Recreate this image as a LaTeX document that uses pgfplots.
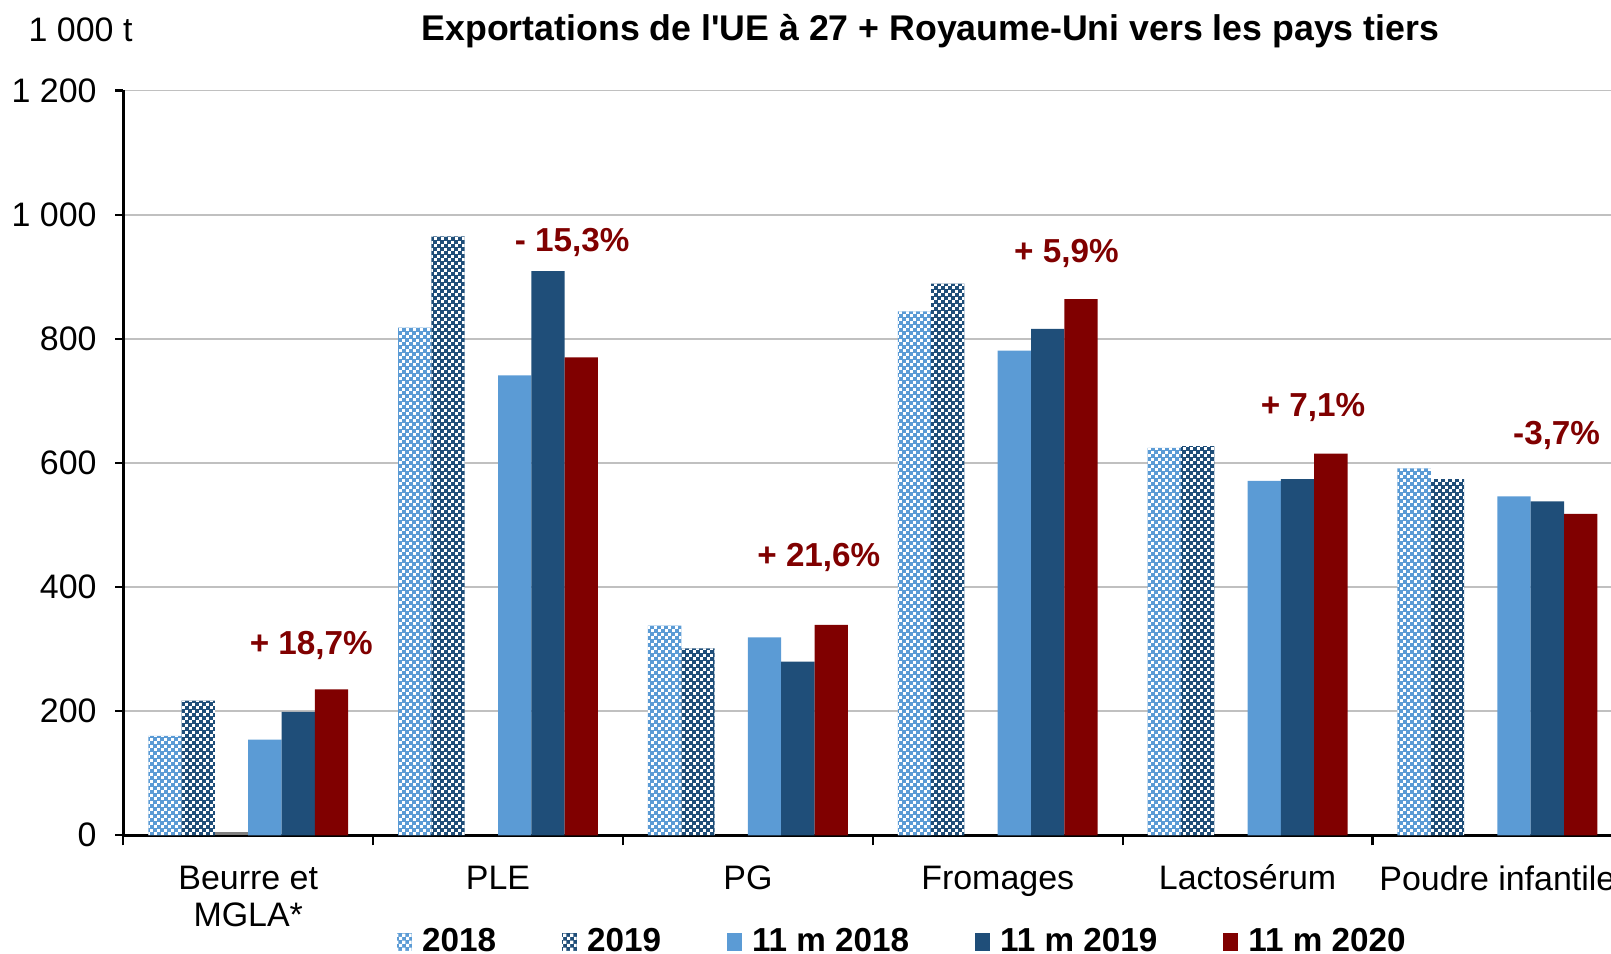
\documentclass[border=0pt]{standalone}
\usepackage{fontspec}
\setmainfont{Liberation Sans}[Ligatures=TeXOff]
\usepackage{pgfplots}
\pgfplotsset{compat=1.18}
\usetikzlibrary{patterns.meta}
\pgfdeclarepattern{
  name=chk,
  type=uncolored,
  bottom left={\pgfpoint{0pt}{0pt}},
  top right={\pgfpoint{2pt}{2pt}},
  tile size={\pgfpoint{2pt}{2pt}},
  code={
    \pgfpathrectangle{\pgfpoint{0pt}{0pt}}{\pgfpoint{0.95pt}{0.95pt}}
    \pgfpathrectangle{\pgfpoint{1pt}{1pt}}{\pgfpoint{0.95pt}{0.95pt}}
    \pgfusepath{fill}
  }
}
\definecolor{lb}{RGB}{91,155,213}
\definecolor{db}{RGB}{31,78,121}
\definecolor{dr}{RGB}{128,0,0}
\definecolor{gb}{RGB}{128,128,128}
\definecolor{gridc}{RGB}{192,192,192}
\begin{document}
\begin{tikzpicture}
\begin{axis}[
  at={(0,0)}, anchor=south west,
  scale only axis, width=428.3pt, height=212.8pt,
  ybar,
  bar width=0.13333,
  xmin=-0.5, xmax=5.5, ymin=0, ymax=1200,
  axis x line*=bottom, axis y line*=left,
  axis line style={line width=0.7pt, black},
  ytick={0,200,...,1200},
  yticklabels={0,200,400,600,800,1 000,1 200},
  xtick={0,...,5},
  xticklabels={{Beurre et\\MGLA*},PLE,PG,Fromages,Lactos\smash{é}rum,Poudre infantile},
  minor xtick={-0.5,0.5,...,5.5},
  tick align=outside,
  major tick length=2.3pt,
  minor tick length=2.9pt,
  major x tick style={draw=none},
  tick style={black, line width=0.6pt},
  ymajorgrids,
  grid style={draw=gridc, line width=0.55pt},
  /pgf/number format/assume math mode=true,
  tick label style={font=\fontsize{9.7}{10.6}\selectfont},
  xticklabel style={align=center, yshift=-3pt},
  yticklabel style={xshift=-1.8pt},
  legend columns=5,
  legend style={draw=none, fill=none, at={(0.5212,-0.1438)}, anchor=center,
    font=\bfseries\fontsize{9.5}{11}\selectfont, inner sep=0pt,
    /tikz/every odd column/.append style={column sep=1pt},
    /tikz/every even column/.append style={column sep=16.7pt}},
  legend image code/.code={\fill[#1] (0pt,-2.6pt) rectangle (4.3pt,2.6pt);},
]
\addplot[fill=lb, draw=none, bar shift=-0.33333, postaction={pattern=chk, pattern color=white}]
  coordinates {(0,160) (1,818) (2,338) (3,844) (4,624) (5,591)};
\addlegendentry{2018}
\addplot[fill=db, draw=none, bar shift=-0.2, postaction={pattern=chk, pattern color=white}]
  coordinates {(0,217) (1,965) (2,301) (3,889) (4,627) (5,574)};
\addlegendentry{2019}
\addplot[fill=gb, draw=none, bar shift=-0.06667, forget plot]
  coordinates {(0,6)};
\addplot[fill=lb, draw=none, bar shift=0.06667]
  coordinates {(0,154) (1,741) (2,319) (3,781) (4,571) (5,546)};
\addlegendentry{11 m 2018}
\addplot[fill=db, draw=none, bar shift=0.2]
  coordinates {(0,199) (1,909) (2,280) (3,816) (4,574) (5,538)};
\addlegendentry{11 m 2019}
\addplot[fill=dr, draw=none, bar shift=0.33333]
  coordinates {(0,235) (1,770) (2,339) (3,864) (4,615) (5,518)};
\addlegendentry{11 m 2020}
\begin{scope}[every node/.style={font=\bfseries\fontsize{9.5}{11}\selectfont, text=dr}]
\node at (axis cs:0.2526,306) {+ 18,7\%};
\node at (axis cs:1.297,955) {- 15,3\%};
\node at (axis cs:2.284,448) {+ 21,6\%};
\node at (axis cs:3.275,938) {+ 5,9\%};
\node at (axis cs:4.262,690) {+ 7,1\%};
\node at (axis cs:5.237,644) {-3,7\%};
\end{scope}
\end{axis}
\node[font=\bfseries\fontsize{10.2}{12}\selectfont] at (230.6pt,229.8pt) {Exportations de l'UE à 27 + Royaume-Uni vers les pays tiers};
\node[font=\fontsize{9.7}{10.6}\selectfont] at (-12.2pt,230.2pt) {1 000 t};
\pgfresetboundingbox
\path[use as bounding box] (-35.23pt,-33.91pt) rectangle (425.06pt,238.66pt);
\end{tikzpicture}
\end{document}
